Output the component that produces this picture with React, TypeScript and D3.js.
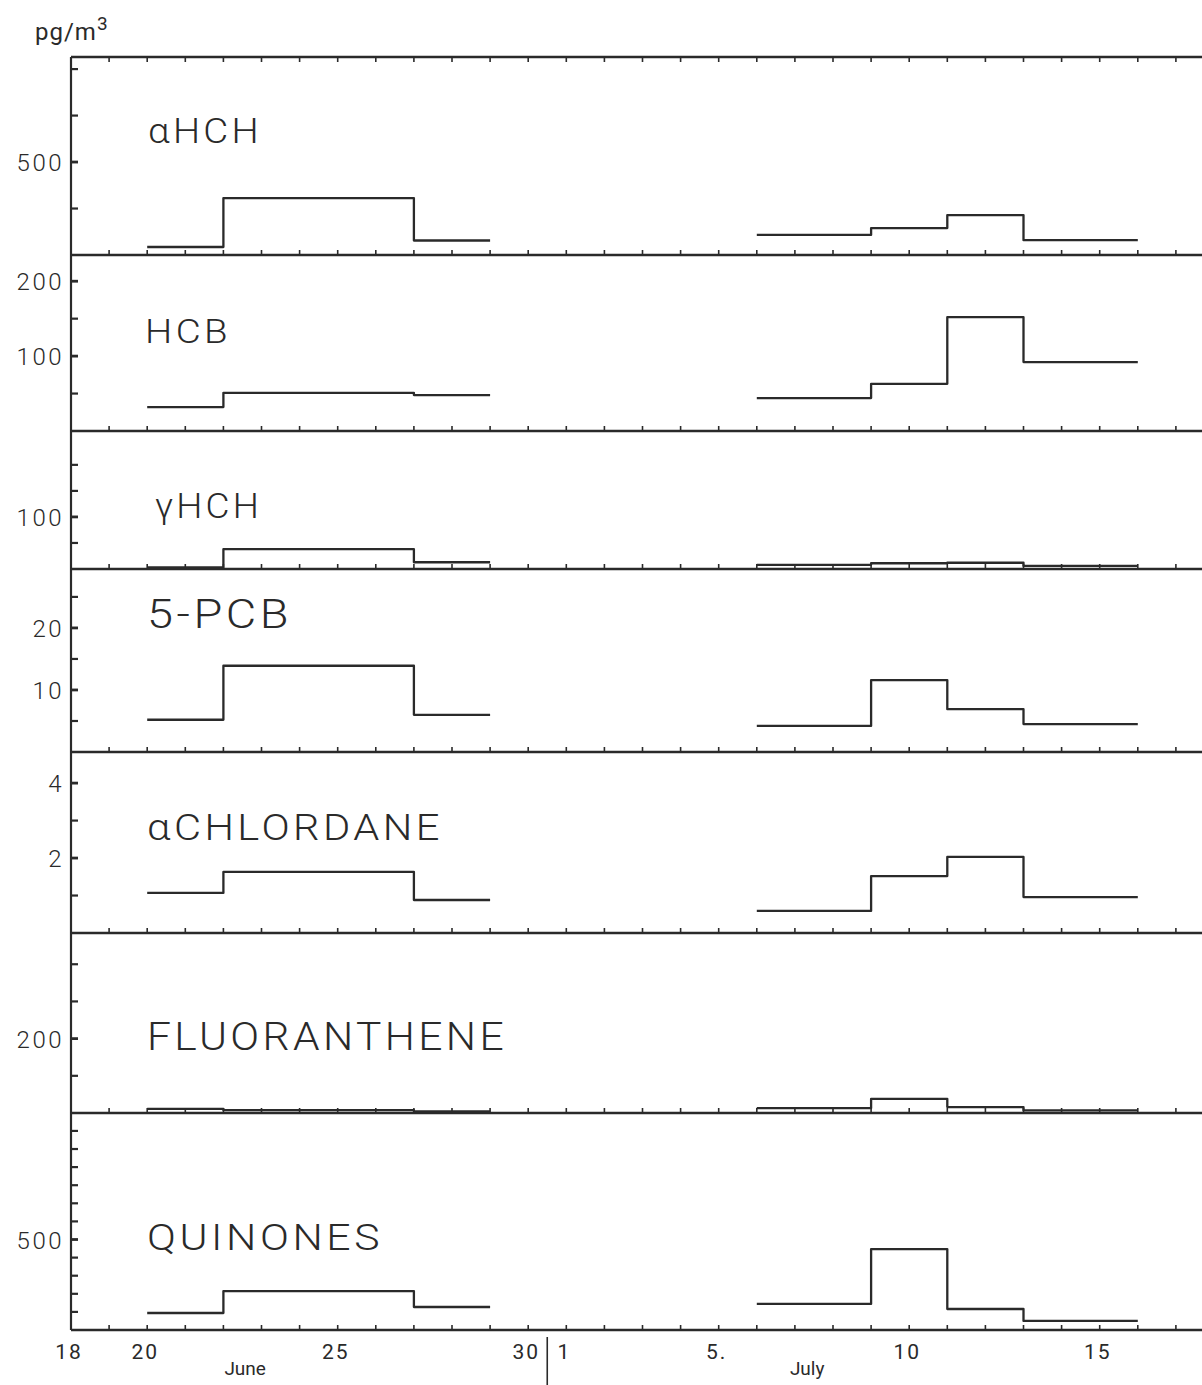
import React from "react";
import * as d3 from "d3";

// Sampling intervals (start / end of each air sample)
const sampleStart = ["1988-06-20", "1988-06-22", "1988-06-27", "1988-07-06", "1988-07-09", "1988-07-11", "1988-07-13"];
const sampleEnd = ["1988-06-22", "1988-06-27", "1988-06-29", "1988-07-09", "1988-07-11", "1988-07-13", "1988-07-16"];

// Compound names, top to bottom
const compounds = ["αHCH", "HCB", "γHCH", "5-PCB", "αCHLORDANE", "FLUORANTHENE", "QUINONES"];

// Concentrations in pg/m3 for each sampling interval
const alphaHCH = [43, 306, 78, 108, 145, 215, 80];
const hcb = [32, 51, 48, 44, 63, 152, 92];
const gammaHCH = [3, 38, 13, 8, 11, 12, 6];
const pcb5 = [5.2, 13.9, 6.0, 4.2, 11.6, 6.9, 4.5];
const alphaChlordane = [1.07, 1.63, 0.88, 0.59, 1.52, 2.03, 0.96];
const fluoranthene = [11, 8, 4, 13, 38, 16, 7];
const quinones = [94, 215, 127, 144, 447, 116, 50];

// Y-axis ranges, minor tick step and labelled ticks per panel
const yMax = [1065, 235, 265, 29.5, 4.83, 484, 1199];
const yTickStep = [250, 50, 50, 5, 1, 100, 100];
const yTickLabels = [[500], [100, 200], [100], [10, 20], [2, 4], [200], [500]];

// X-axis labels
const dayLabelDates = ["1988-06-18", "1988-06-20", "1988-06-25", "1988-06-30", "1988-07-01", "1988-07-05", "1988-07-10", "1988-07-15"];
const dayLabelTexts = ["18", "20", "25", "30", "1", "5.", "10", "15"];
const monthLabelDates = ["1988-06-22", "1988-07-07"];
const monthLabelTexts = ["June", "July"];

const series = [alphaHCH, hcb, gammaHCH, pcb5, alphaChlordane, fluoranthene, quinones];

// Layout
const W = 1202;
const H = 1385;
const axisX = 71;
const dayWidth = 38.1;
const panelTops = [57, 255, 431, 569, 752, 933, 1113];
const plotBottom = 1330;
const nameBaselines = [143, 343, 518, 628, 840, 1050, 1250];
const nameX = [148, 145, 155, 147, 147, 147, 147];
const nameWidths = [114, 86, 107, 145, 296, 360, 236];
const nameSizes = [35, 34, 35, 40, 36, 38, 36];

const INK = "#2a2a2a";
const FONT = "Roboto, 'DejaVu Sans', sans-serif";

const parse = d3.utcParse("%Y-%m-%d");

export default function App() {
  const start = parse("1988-06-18")!;
  const end = parse("1988-07-18")!;
  const x = d3
    .scaleUtc()
    .domain([start, end])
    .range([axisX, axisX + 30 * dayWidth]);

  const days = d3.utcDay.range(start, d3.utcDay.offset(end, 1));
  const starts = sampleStart.map((s) => parse(s)!);
  const ends = sampleEnd.map((s) => parse(s)!);

  const panels = compounds.map((name, i) => {
    const top = panelTops[i];
    const bottom = i < panelTops.length - 1 ? panelTops[i + 1] : plotBottom;
    const y = d3.scaleLinear().domain([0, yMax[i]]).range([bottom, top]);
    return { name, i, top, bottom, y };
  });

  // split consecutive intervals into continuous step runs
  const runs: number[][] = [];
  starts.forEach((s, k) => {
    if (k > 0 && +s === +ends[k - 1]) runs[runs.length - 1].push(k);
    else runs.push([k]);
  });

  const line = d3
    .line<[Date, number]>()
    .x((d) => x(d[0]))
    .y((d) => d[1])
    .curve(d3.curveStepAfter);

  const sep = x(new Date((+parse("1988-06-30")! + +parse("1988-07-01")!) / 2));

  return (
    <svg
      width={W}
      height={H}
      style={{ position: "absolute", left: 0, top: 0, background: "#fff" }}
      fontFamily={FONT}
    >
      {/* unit */}
      <text x={35} y={40} fontSize={24} fontWeight={400} letterSpacing={1} fill={INK}>
        pg/m
        <tspan dy={-10} fontSize={19}>
          3
        </tspan>
      </text>

      {/* top border with day ticks */}
      <line x1={axisX} x2={W} y1={panelTops[0]} y2={panelTops[0]} stroke={INK} strokeWidth={2.4} />
      {days.map((d, k) => (
        <line key={"tt" + k} x1={x(d)} x2={x(d)} y1={panelTops[0]} y2={panelTops[0] + 5} stroke={INK} strokeWidth={1.6} />
      ))}

      {/* left axis */}
      <line x1={axisX} x2={axisX} y1={panelTops[0]} y2={plotBottom} stroke={INK} strokeWidth={2.2} />

      {panels.map((p) => {
        const ticks = d3.range(yTickStep[p.i], yMax[p.i], yTickStep[p.i]).filter((v) => p.y(v) > p.top + 12);
        return (
          <g key={p.name}>
            {/* panel bottom line with day ticks */}
            <line x1={axisX} x2={W} y1={p.bottom} y2={p.bottom} stroke={INK} strokeWidth={2.6} />
            {days.map((d, k) => (
              <line key={k} x1={x(d)} x2={x(d)} y1={p.bottom} y2={p.bottom - 5} stroke={INK} strokeWidth={1.6} />
            ))}
            {/* y ticks */}
            {ticks.map((v) => (
              <line
                key={"y" + v}
                x1={axisX}
                x2={axisX + 7}
                y1={p.y(v)}
                y2={p.y(v)}
                stroke={INK}
                strokeWidth={yTickLabels[p.i].includes(v) ? 2.8 : 2.2}
              />
            ))}
            {yTickLabels[p.i].map((v) => (
              <text
                key={"l" + v}
                x={64}
                y={p.y(v) + 9}
                textAnchor="end"
                fontSize={24}
                fontWeight={300}
                letterSpacing={2.5}
                fill={INK}
              >
                {v}
              </text>
            ))}
            {/* compound name */}
            <text
              x={nameX[p.i]}
              y={nameBaselines[p.i]}
              fontSize={nameSizes[p.i]}
              fontWeight={300}
              letterSpacing={3}
              textLength={nameWidths[p.i]}
              lengthAdjust="spacingAndGlyphs"
              fill={INK}
            >
              {p.name}
            </text>
            {/* step series */}
            {runs.map((run, r) => {
              const pts: [Date, number][] = run.map((k) => [starts[k], p.y(series[p.i][k])]);
              const last = run[run.length - 1];
              pts.push([ends[last], p.y(series[p.i][last])]);
              return (
                <path
                  key={"r" + r}
                  d={line(pts) || ""}
                  fill="none"
                  stroke={INK}
                  strokeWidth={2.3}
                  strokeLinejoin="round"
                />
              );
            })}
          </g>
        );
      })}

      {/* x labels */}
      {dayLabelDates.map((ds, k) => (
        <text
          key={"dl" + k}
          x={x(parse(ds)!) - 2}
          y={1359}
          textAnchor="middle"
          fontSize={21}
          fontWeight={400}
          letterSpacing={2}
          fill={INK}
        >
          {dayLabelTexts[k]}
        </text>
      ))}
      {monthLabelDates.map((ds, k) => (
        <text
          key={"ml" + k}
          x={x(parse(ds)!) + (k === 0 ? 1 : -5)}
          y={1375}
          fontSize={19}
          fontWeight={400}
          fill={INK}
        >
          {monthLabelTexts[k]}
        </text>
      ))}

      {/* June / July separator */}
      <line x1={sep} x2={sep} y1={1337} y2={H} stroke={INK} strokeWidth={1.6} />
    </svg>
  );
}
